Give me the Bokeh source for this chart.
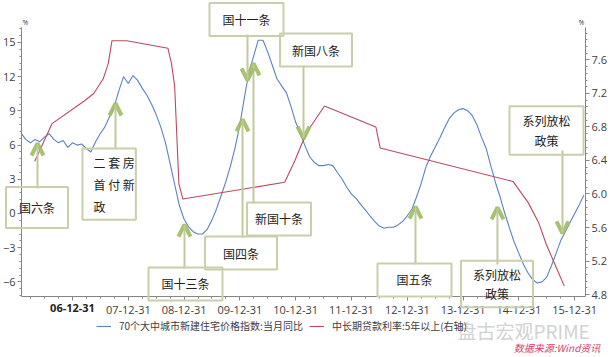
import numpy as np
import pandas as pd
from bokeh.plotting import figure
from bokeh.models import (Range1d, LinearAxis, FixedTicker, Label, Arrow, OpenHead,
                          Legend, LegendItem, PrintfTickFormatter, Grid)
from bokeh.embed import file_html
from bokeh.resources import INLINE

# ---------------- data ----------------
# 70-city new residential price index, YoY (%), monthly from 2006-01
blue_first_month = "2006-01-01"
blue_yoy = [
    7.0, 6.5, 6.2, 6.5, 6.3, 6.7, 7.0, 6.5, 6.2, 6.4, 5.8, 6.2,          # 2006
    6.0, 6.1, 5.7, 5.4, 6.3, 7.0, 7.6, 8.5, 9.4, 10.8, 12.0, 11.4,       # 2007
    12.1, 11.7, 11.0, 10.4, 9.6, 8.7, 7.6, 6.2, 4.4, 2.5, 0.7, -0.5,     # 2008
    -1.2, -1.6, -1.8, -1.8, -1.4, -0.6, 0.4, 1.6, 2.8, 4.2, 5.8, 7.8,    # 2009
    10.3, 12.4, 13.8, 15.2, 15.2, 14.2, 13.0, 11.8, 11.2, 10.6, 9.4, 8.0,  # 2010
    7.0, 6.0, 5.0, 4.5, 4.2, 4.2, 4.3, 4.2, 3.6, 3.0, 2.3, 1.7,          # 2011
    1.3, 0.8, 0.3, -0.2, -0.7, -1.1, -1.3, -1.2, -1.2, -1.0, -0.7, -0.2, # 2012
    0.4, 1.4, 2.6, 4.0, 5.0, 5.8, 6.6, 7.5, 8.3, 8.8, 9.1, 9.2,          # 2013
    9.0, 8.6, 7.8, 6.7, 5.7, 4.2, 2.7, 1.4, 0.0, -1.3, -2.5, -3.5,       # 2014
    -4.5, -5.2, -5.8, -6.1, -6.0, -5.6, -4.6, -3.5, -2.4, -1.6, -0.8, 0.0,  # 2015
    0.8, 1.6,                                                            # 2016
]

# Medium/long-term loan rate, 5 years and above (%), at change dates (right axis)
rate_dates = [
    "2006-04-28", "2006-08-19", "2007-03-18", "2007-05-19", "2007-07-21",
    "2007-08-22", "2007-09-15", "2007-12-21", "2008-09-16", "2008-10-09",
    "2008-10-30", "2008-11-27", "2008-12-23", "2010-10-20", "2010-12-26",
    "2011-02-09", "2011-04-06", "2011-07-07", "2012-06-08", "2012-07-06",
    "2014-11-22", "2015-03-01", "2015-05-11", "2015-06-28", "2015-08-26",
    "2015-10-24",
]
rate_vals = [
    6.39, 6.84, 7.11, 7.20, 7.38, 7.56, 7.83, 7.83, 7.74, 7.56,
    7.29, 6.12, 5.94, 6.14, 6.40, 6.60, 6.80, 7.05, 6.80, 6.55,
    6.15, 5.90, 5.65, 5.40, 5.15, 4.90,
]

year_ticks = [2007, 2008, 2009, 2010, 2011, 2012, 2013, 2014, 2015, 2016]
year_labels = ["06-12-31", "07-12-31", "08-12-31", "09-12-31", "10-12-31",
               "11-12-31", "12-12-31", "13-12-31", "14-12-31", "15-12-31"]
left_ticks = [-6, -3, 0, 3, 6, 9, 12, 15]
right_ticks = [4.8, 5.2, 5.6, 6.0, 6.4, 6.8, 7.2, 7.6]

series_names = ["70个大中城市新建住宅价格指数:当月同比", "中长期贷款利率:5年以上(右轴)"]

# policy annotations: text, label t, label v, box w, box h, arrow t, arrow v from, arrow v to, align
annotations = [
    ("国六条", 2006.364, 0.53, 63, 38, 2006.373, 2.19, 6.14, "c"),
    ("二 套 房\n首 付 新\n政", 2007.179, 5.70, 54, 57, 2007.771, 5.70, 9.65, "l"),
    ("国十三条", 2009.025, -6.18, 74, 31, 2009.007, -4.83, -0.97, "c"),
    ("国四条", 2010.020, -3.47, 73, 31, 2010.047, -2.11, 8.25, "c"),
    ("新国十条", 2010.701, -0.48, 65, 31, 2010.244, 0.88, 13.16, "c"),
    ("国十一条", 2010.118, 17.02, 74, 30, 2010.136, 15.70, 11.67, "c"),
    ("新国八条", 2011.364, 14.34, 73, 31, 2011.140, 12.98, 6.58, "c"),
    ("国五条", 2013.129, -5.83, 74, 31, 2013.147, -4.47, 0.61, "c"),
    ("系列放松\n政策", 2014.607, -6.18, 73, 39, 2014.616, -4.47, 0.53, "c"),
    ("系列放松\n政策", 2015.495, 7.28, 74, 40, 2015.781, 5.53, -1.75, "c"),
]


def dec_year(d):
    d = pd.DatetimeIndex(d)
    return (np.asarray(d.year, dtype=float)
            + np.asarray(d.dayofyear, dtype=float) / (365 + np.asarray(d.is_leap_year, dtype=int)))


blue_dates = pd.date_range(blue_first_month, periods=len(blue_yoy), freq="MS") + pd.offsets.MonthEnd(0)
blue_t = dec_year(blue_dates)
rate_t = dec_year(pd.to_datetime(rate_dates))

# ---------------- figure ----------------
FONT = "Noto Sans CJK SC"
TICKFONT = "Open Sans"
AX = "#868686"
TXT = "#404040"

# frame covers the whole canvas; axes are drawn at fixed locations inside it
X0, X1 = 2006.086, 2016.194     # axis extent (time)
Y0, Y1 = -7.28, 16.32           # left axis extent
R0, R1 = 4.776, 7.988           # right axis extent

p = figure(width=613, height=357, output_backend="svg", toolbar_location=None,
           x_range=Range1d(2005.7097, 2016.6953), y_range=Range1d(-12.6316, 18.6842),
           x_axis_location=None, y_axis_location=None,
           min_border_left=0, min_border_right=0, min_border_top=0, min_border_bottom=0)
p.outline_line_color = None
p.background_fill_color = "white"
p.border_fill_color = "white"
for g in list(p.center):
    if isinstance(g, Grid):
        g.visible = False
p.extra_y_ranges = {"rate": Range1d(4.0478, 8.3104)}

r_blue = p.line(blue_t, blue_yoy, line_color="#5b82c0", line_width=1.1)
r_red = p.line(rate_t, rate_vals, line_color="#b94a5e", line_width=1.1, y_range_name="rate")

ov = {t: l for t, l in zip(year_ticks, year_labels)}
ov[year_ticks[0]] = " "
xa = LinearAxis(ticker=FixedTicker(ticks=year_ticks, minor_ticks=list(np.arange(2006.25, 2016.2, 0.25))),
                major_label_overrides=ov, fixed_location=Y0, bounds=(X0, X1))
ya = LinearAxis(ticker=FixedTicker(ticks=left_ticks, minor_ticks=list(np.arange(-7.2, 16.4, 0.6))),
                fixed_location=X0, bounds=(Y0, Y1))
ra = LinearAxis(y_range_name="rate",
                ticker=FixedTicker(ticks=right_ticks, minor_ticks=list(np.arange(4.8, 8.0, 0.08))),
                formatter=PrintfTickFormatter(format="%.1f"), fixed_location=X1, bounds=(R0, R1))
p.add_layout(xa, "below")
p.add_layout(ya, "left")
p.add_layout(ra, "right")

for ax in (xa, ya, ra):
    ax.axis_line_color = AX
    ax.major_tick_line_color = AX
    ax.minor_tick_line_color = AX
    ax.major_tick_in = 0
    ax.major_tick_out = 4
    ax.minor_tick_in = 0
    ax.minor_tick_out = 2
    ax.major_label_text_font = TICKFONT
    ax.major_label_text_font_size = "11px"
    ax.major_label_text_color = TXT
    ax.major_label_standoff = 2

# bold first date label
p.add_layout(Label(x=year_ticks[0], y=-8.33, text=year_labels[0], text_font=TICKFONT,
                   text_font_size="11px", text_font_style="bold", text_color="#222222",
                   text_align="center", text_baseline="middle"))

# % unit marks
p.add_layout(Label(x=2006.158, y=16.40, text="%", text_font=TICKFONT, text_font_size="7px",
                   text_color=TXT, text_align="center", text_baseline="bottom"))
p.add_layout(Label(x=2016.122, y=16.40, text="%", text_font=TICKFONT, text_font_size="7px",
                   text_color=TXT, text_align="center", text_baseline="bottom"))

# annotations
BOX = "#c9cfab"
STEM = "#c2c99d"
HEAD = "#a2bf68"
for text, lt, lv, w, h, at, av0, av1, al in annotations:
    p.add_layout(Arrow(x_start=at, y_start=av0, x_end=at, y_end=av1,
                       line_color=STEM, line_width=2,
                       end=OpenHead(size=12, line_color=HEAD, line_width=4, line_alpha=0.95)))
    lines = text.split("\n")
    if al == "l":
        tw = 42
        th = 15.5 * len(lines)
        pad = dict(left=11, right=max(0, int(w - 11 - tw)), top=5, bottom=int(max(0, h - th - 5)))
        p.add_layout(Label(x=lt, y=lv, text=text, text_font=FONT, text_font_size="12px",
                           text_color="#222222", text_align="left", text_baseline="top",
                           text_line_height=1.3,
                           border_line_color=BOX, border_line_width=2,
                           background_fill_color=None, padding=pad))
    else:
        tw = 12 * max(len(l) for l in lines)
        th = 14 * len(lines)
        ph = int(max(0, (w - tw) / 2))
        pv = int(max(0, (h - th) / 2))
        p.add_layout(Label(x=lt, y=lv, text=text, text_font=FONT, text_font_size="12px",
                           text_color="#222222", text_align="center", text_baseline="middle",
                           text_line_height=1.15,
                           border_line_color=BOX, border_line_width=2,
                           background_fill_color=None,
                           padding=dict(left=ph, right=ph, top=pv, bottom=pv)))

# legend
legend = Legend(items=[LegendItem(label=series_names[0], renderers=[r_blue]),
                       LegendItem(label=series_names[1], renderers=[r_red])],
                orientation="horizontal", location=(96, 24),
                border_line_color=None, background_fill_alpha=0,
                label_text_font=FONT, label_text_font_size="10px", label_text_color=TXT,
                glyph_width=15, glyph_height=10, label_standoff=8, spacing=6,
                padding=2, margin=0)
p.add_layout(legend, "center")

# watermark and source
p.add_layout(Label(x=2013.90, y=-10.26, text="盘古宏观PRIME", text_font=FONT,
                   text_font_size="19px", text_color="#d2d2d2",
                   text_align="left", text_baseline="middle"))
p.add_layout(Label(x=2016.46, y=-11.75, text="数据来源:Wind资讯", text_font=FONT,
                   text_font_size="10px", text_font_style="italic", text_color="#d9406a",
                   text_align="right", text_baseline="middle"))

open("out.html", "w").write(file_html(p, INLINE))
